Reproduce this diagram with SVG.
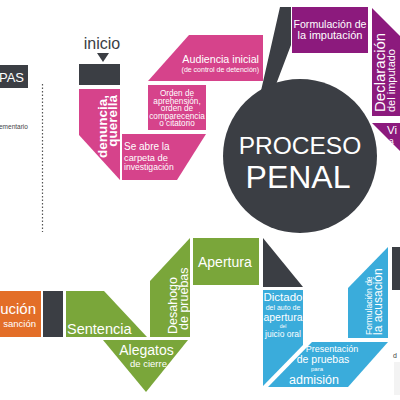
<svg xmlns="http://www.w3.org/2000/svg" width="400" height="400" viewBox="0 0 400 400">
<style>
text{font-family:"Liberation Sans",Arial,sans-serif;fill:#fff}
.pk{fill:#D6438B}.pu{fill:#8C1A7D}.gr{fill:#7AA63A}.bl{fill:#3AACDB}.or{fill:#E36E28}.dk{fill:#3B3E44}
.c{text-anchor:middle}.e{text-anchor:end}
</style>
<rect width="400" height="400" fill="#fff"/>
<g id="connectors">
<line x1="42.5" y1="84" x2="42.5" y2="232" stroke="#555" stroke-width="1.2" stroke-dasharray="1.5 2"/>
</g>
<g id="etapas">
<rect class="dk" x="0" y="65" width="28" height="23"/>
<text class="e" x="24" y="82" font-size="13">PAS</text>
<text x="-1" y="129" font-size="6.5" style="fill:#444">ementario</text>
</g>
<g id="inicio">
<text class="c" x="102" y="49" font-size="16" style="fill:#3B3E44">inicio</text>
<polygon class="dk" points="97,53 109,53 103,62"/>
<rect class="dk" x="79" y="64" width="41" height="21"/>
</g>
<g id="denuncia">
<polygon class="pk" points="79,89 120,89 120,180 79,135"/>
<text class="e" transform="translate(107,95) rotate(-90)" font-size="13.5" font-weight="bold">denuncia,</text>
<text class="e" transform="translate(116.5,95) rotate(-90)" font-size="13.5" font-weight="bold">querella</text>
</g>
<g id="carpeta">
<polygon class="pk" points="122,134 206,134 177,180 122,180"/>
<text x="124" y="150" font-size="10">Se abre la</text>
<text x="124" y="160.5" font-size="9.3">carpeta de</text>
<text x="124" y="170.3" font-size="8.6">investigación</text>
</g>
<g id="orden">
<rect class="pk" x="148" y="85" width="58" height="45"/>
<text class="c" x="177" y="96" font-size="8.2">Orden de</text>
<text class="c" x="177" y="103.5" font-size="8.2">aprehensión,</text>
<text class="c" x="177" y="111" font-size="8.2">orden de</text>
<text class="c" x="177" y="118.5" font-size="8.2">comparecencia</text>
<text class="c" x="177" y="126" font-size="8.2">o citatorio</text>
</g>
<g id="audiencia">
<polygon class="pk" points="189,35 263,35 263,81 148,81"/>
<text class="e" x="259" y="63" font-size="10.7">Audiencia inicial</text>
<text class="e" x="259" y="72" font-size="7">(de control de detención)</text>
</g>
<g id="proceso-penal">
<polygon class="dk" points="280,7 291,7 291,45 272,95 260,95 263,82"/>
<circle class="dk" cx="300" cy="156" r="77"/>
<text class="c" x="300" y="153.5" font-size="24.5">PROCESO</text>
<text class="c" x="298" y="187.5" font-size="32">PENAL</text>
</g>
<g id="formulacion-imputacion">
<rect class="pu" x="292" y="7" width="76" height="46"/>
<text class="c" x="330" y="28" font-size="10.6">Formulación de</text>
<text class="c" x="330" y="39" font-size="11">la imputación</text>
</g>
<g id="declaracion">
<polygon class="pu" points="372,8 400,36 400,116 372,116"/>
<text transform="translate(385,112) rotate(-90)" font-size="15">Declaración</text>
<text transform="translate(395,112) rotate(-90)" font-size="11">del imputado</text>
</g>
<g id="vinculacion">
<polygon class="pu" points="372,123 400,123 400,151"/>
<text x="387" y="134" font-size="11.5">Vi</text>
<text x="389" y="144" font-size="8.5">a</text>
</g>
<g id="formulacion-acusacion">
<polygon class="bl" points="348,288 388,247 388,338 348,338"/>
<text transform="translate(372,335) rotate(-90)" font-size="8.5">Formulación de</text>
<text transform="translate(382,335) rotate(-90)" font-size="12">la acusación</text>
</g>
<rect id="barra-derecha" class="dk" x="392" y="247" width="8" height="43"/>
<g id="presentacion">
<polygon class="bl" points="312,342 388,342 348,387 268,387"/>
<text class="c" x="332" y="351.5" font-size="9">Presentación</text>
<text class="c" x="323" y="363" font-size="10.5">de pruebas</text>
<text class="c" x="317" y="370.8" font-size="6">para</text>
<text class="c" x="314" y="383.5" font-size="12.5">admisión</text>
</g>
<g id="extra-derecha">
<text x="393" y="358" font-size="7" style="fill:#444">d</text>
<rect x="394" y="362" width="6" height="33" fill="#f3f3f3"/>
</g>
<g id="dictado">
<polygon class="bl" points="263,290 303,290 303,345 263,386"/>
<text class="c" x="283" y="301" font-size="11.5">Dictado</text>
<text class="c" x="283" y="310" font-size="7">del auto de</text>
<text class="c" x="283" y="321" font-size="10.5">apertura</text>
<text class="c" x="283" y="328" font-size="5">del</text>
<text class="c" x="283" y="336.5" font-size="8.5">juicio oral</text>
</g>
<polygon id="triangulo-oscuro" class="dk" points="263,238 263,287 303,287"/>
<g id="apertura">
<rect class="gr" x="193" y="238" width="66" height="47"/>
<text x="198" y="267" font-size="14">Apertura</text>
</g>
<g id="desahogo">
<polygon class="gr" points="150,281 190,238 190,337 150,337"/>
<text transform="translate(177,334) rotate(-90)" font-size="12.5">Desahogo</text>
<text transform="translate(188,330) rotate(-90)" font-size="12.5">de pruebas</text>
</g>
<g id="alegatos">
<polygon class="gr" points="103,340 188,340 146,392"/>
<text class="c" x="146.5" y="355" font-size="14">Alegatos</text>
<text class="c" x="148.5" y="367" font-size="9.5">de cierre</text>
</g>
<g id="sentencia">
<polygon class="gr" points="66,291 104,291 147,337 66,337"/>
<text x="67" y="334" font-size="14.5">Sentencia</text>
</g>
<rect id="separador" class="dk" x="43" y="291" width="20" height="46"/>
<g id="ejecucion">
<rect class="or" x="0" y="291" width="41" height="46"/>
<text class="e" x="36" y="314" font-size="15">ución</text>
<text class="e" x="36" y="326.5" font-size="9.5">sanción</text>
</g>
</svg>
